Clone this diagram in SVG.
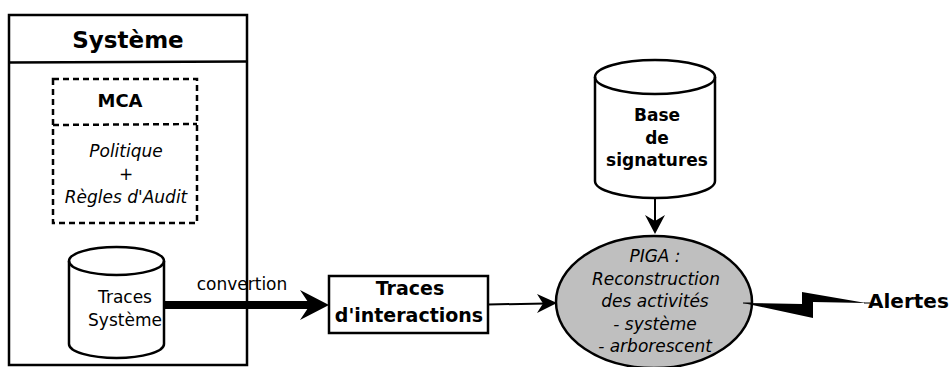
<svg xmlns="http://www.w3.org/2000/svg" width="949" height="367" viewBox="0 0 949 367">
<style>
.b{fill:none;stroke:#000;stroke-width:2.5}
.w{fill:#fff}
.g{fill:#bfbfbf}
.d{fill:none;stroke:#000;stroke-width:2.5;stroke-dasharray:6,4}
.t{font-family:"DejaVu Sans",sans-serif;fill:#000;text-anchor:middle}
.s{text-anchor:start}
.bold{font-weight:bold}
.it{font-style:italic}
.ln{stroke:#000;stroke-width:2;fill:none}
.hd{fill:#000;stroke:none}
</style>
<rect width="949" height="367" fill="#fff"/>
<g id="systeme">
<rect class="b" x="9" y="15" width="238" height="350"/>
<line class="b" x1="8" y1="62.5" x2="248" y2="61.5"/>
<text class="t bold" x="128" y="48" font-size="23">Système</text>
</g>
<g id="mca">
<rect class="d" x="53" y="79" width="144" height="144"/>
<line class="d" x1="53" y1="125" x2="197" y2="124"/>
<text class="t bold" x="120" y="107" font-size="18">MCA</text>
<text class="t it" x="126" y="157" font-size="17">Politique</text>
<text class="t" x="126" y="180" font-size="17">+</text>
<text class="t it" x="126" y="203" font-size="17">Règles d'Audit</text>
</g>
<g id="traces-systeme">
<path class="b w" d="M69,261 A47.5,14 0 0 1 164,261 L164,344 A47.5,14 0 0 1 69,344 Z"/>
<path class="b" d="M69,261 A47.5,14 0 0 0 164,261"/>
<text class="t" x="125" y="303" font-size="17">Traces</text>
<text class="t" x="125" y="326" font-size="17">Système</text>
</g>
<g id="traces-interactions">
<rect class="b w" x="329" y="276" width="159" height="57"/>
<text class="t bold" x="410" y="295" font-size="19">Traces</text>
<text class="t bold" x="409" y="322" font-size="19">d'interactions</text>
</g>
<g id="base-signatures">
<path class="b w" d="M595,77 A60,17 0 0 1 715,77 L715,181 A60,17 0 0 1 595,181 Z"/>
<path class="b" d="M595,77 A60,17 0 0 0 715,77"/>
<text class="t bold" x="657" y="121" font-size="17">Base</text>
<text class="t bold" x="657" y="144" font-size="17">de</text>
<text class="t bold" x="657" y="166" font-size="17">signatures</text>
</g>
<g id="piga">
<ellipse class="b g" cx="654" cy="302" rx="98" ry="66"/>
<text class="t it" x="655" y="262" font-size="17">PIGA :</text>
<text class="t it" x="656" y="285" font-size="17">Reconstruction</text>
<text class="t it" x="655" y="307" font-size="17">des activités</text>
<text class="t it" x="655" y="330" font-size="17">- système</text>
<text class="t it" x="655" y="352" font-size="17">- arborescent</text>
</g>
<g id="alertes">
<text class="t bold s" x="868" y="308" font-size="20">Alertes</text>
</g>
<g id="connectors">
<line x1="164" y1="305" x2="312" y2="305" stroke="#000" stroke-width="8"/>
<path class="hd" d="M329,305 L300,290 L310,305 L300,320 Z"/>
<text class="t" x="242" y="290" font-size="17">convertion</text>
<line class="ln" x1="488" y1="304.5" x2="546" y2="303.5"/>
<path class="hd" d="M557,303 L537,294 L543,303.5 L537,313 Z"/>
<line class="ln" x1="655" y1="198" x2="655" y2="222"/>
<path class="hd" d="M655,234 L645,215 L655,221 L665,215 Z"/>
<path class="hd" d="M743,303 L802,304 L802,292 L866,303 L813,302 L813,318 Z"/>
<line x1="743" y1="303" x2="752" y2="303" stroke="#000" stroke-width="1"/>
<line x1="864" y1="303" x2="870" y2="303" stroke="#000" stroke-width="1"/>
</g>
</svg>
